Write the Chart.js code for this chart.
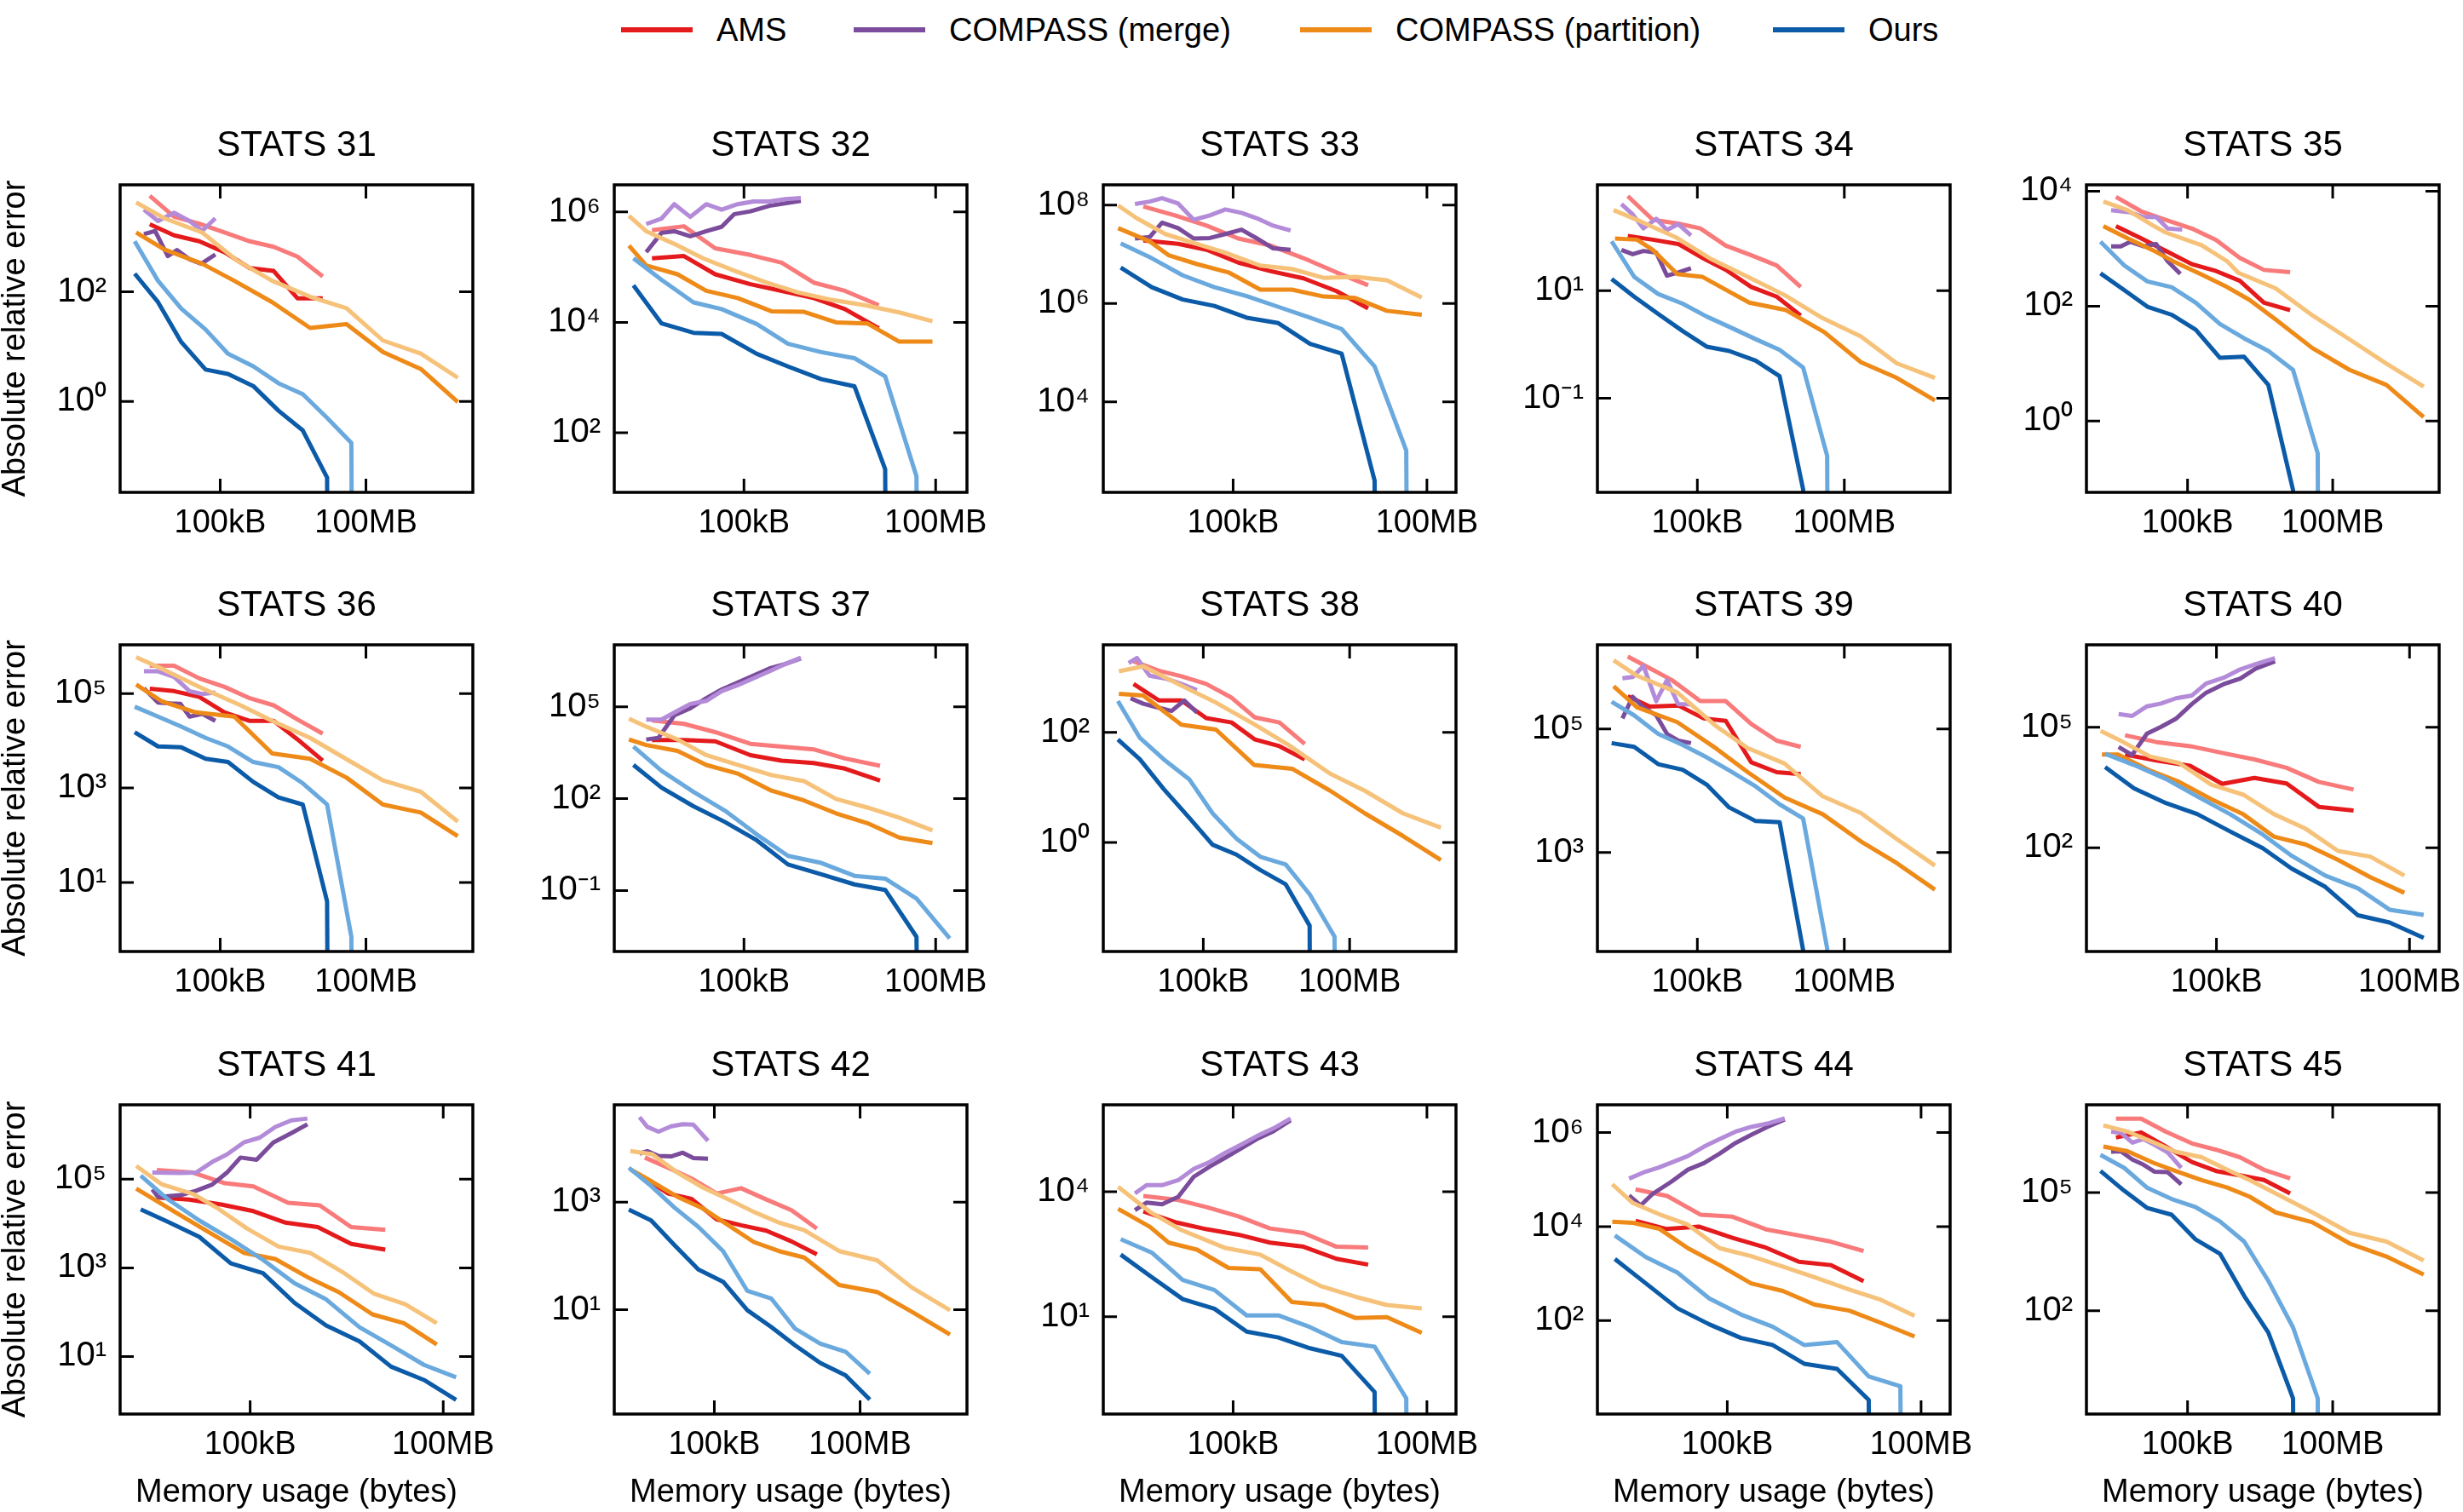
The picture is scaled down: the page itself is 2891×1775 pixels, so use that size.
<!DOCTYPE html>
<html>
<head>
<meta charset="utf-8">
<script src="https://cdn.jsdelivr.net/npm/chart.js@4.4.1/dist/chart.umd.min.js"></script>
<style>
html, body { margin: 0; padding: 0; background: #fff; }
#page { position: relative; width: 2891px; height: 1775px; overflow: hidden; font-family: "Liberation Sans", Arial, sans-serif; }
#page canvas { position: absolute; }
.leg { position: absolute; top: 13px; height: 44px; line-height: 44px; font-size: 38px; color: #000; white-space: nowrap; }
.leg i { position: absolute; left: 0; top: 19px; width: 84px; height: 6px; }
</style>
</head>
<body>
<div id="page"></div>
<script>
const FONT = '"Liberation Sans", Arial, sans-serif';

// all values are log10: [log10(bytes), log10(absolute relative error)]
// Z = log10(0): the error hit zero, matplotlib drops the line off the bottom
const Z = -Infinity;
const FLOOR = 1e-100;

const panelIds = [31, 32, 33, 34, 35, 36, 37, 38, 39, 40, 41, 42, 43, 44, 45];
const xLimExp = [[2.94, 10.2], [2.97, 8.49], [2.99, 8.45], [2.96, 10.16], [2.91, 10.2],
                 [2.94, 10.2], [2.97, 8.49], [2.95, 10.18], [2.96, 10.16], [2.98, 8.46],
                 [2.98, 8.46], [2.94, 10.2], [2.99, 8.45], [2.99, 8.45], [2.91, 10.2]];
const yLimExp = [[-1.66, 3.95], [0.92, 6.49], [2.16, 8.41], [-2.75, 2.97], [-1.24, 4.11],
                 [-0.46, 6.03], [-2.99, 7.02], [-1.98, 3.59], [1.40, 6.36], [-0.58, 7.05],
                 [-0.30, 6.68], [-0.94, 4.81], [-1.34, 6.09], [0.01, 6.59], [-0.62, 7.23]];
const yTickExp = [[0, 2], [2, 4, 6], [4, 6, 8], [-1, 1], [0, 2, 4],
                  [1, 3, 5], [-1, 2, 5], [0, 2], [3, 5], [2, 5],
                  [1, 3, 5], [1, 3], [1, 4], [2, 4, 6], [2, 5]];
const xTickValues = [1e5, 1e8];
const xTickLabels = ['100kB', '100MB'];
const legendLabels = ['AMS', 'COMPASS (merge)', 'COMPASS (partition)', 'Ours'];

const s31 = {
  ams:   [[3.55,3.23],[4.05,3.03],[4.57,2.92],[5.09,2.72],[5.61,2.43],[6.10,2.38],[6.59,1.88],[7.11,1.88]],
  amsL:  [[3.55,3.75],[4.05,3.37],[4.57,3.24],[5.09,3.08],[5.61,2.92],[6.10,2.82],[6.59,2.64],[7.11,2.28]],
  merge: [[3.43,3.05],[3.66,3.11],[3.92,2.65],[4.11,2.76],[4.37,2.59],[4.61,2.51],[4.90,2.68]],
  mergeL:[[3.43,3.50],[3.72,3.29],[4.05,3.44],[4.37,3.29],[4.63,3.11],[4.90,3.34]],
  part:  [[3.27,3.08],[3.85,2.77],[4.63,2.51],[5.29,2.20],[6.07,1.81],[6.85,1.34],[7.60,1.41],[8.35,0.90],[9.13,0.59],[9.89,-0.01]],
  partL: [[3.27,3.63],[3.85,3.34],[4.63,3.08],[5.36,2.56],[6.07,2.20],[6.85,1.91],[7.60,1.70],[8.35,1.11],[9.13,0.87],[9.89,0.43]],
  ours:  [[3.24,2.33],[3.72,1.81],[4.20,1.08],[4.70,0.58],[5.16,0.50],[5.68,0.28],[6.20,-0.17],[6.70,-0.53],[7.20,-1.39],[7.70,Z]],
  oursL: [[3.24,2.92],[3.72,2.20],[4.20,1.69],[4.70,1.31],[5.16,0.87],[5.68,0.64],[6.20,0.33],[6.70,0.13],[7.20,-0.30],[7.70,-0.76],[8.20,Z]]
};
const s32 = {
  ams:   [[3.56,5.16],[4.06,5.20],[4.55,4.87],[5.10,4.69],[5.59,4.57],[6.09,4.44],[6.58,4.24],[7.11,3.89]],
  amsL:  [[3.56,5.67],[4.06,5.74],[4.55,5.34],[5.10,5.22],[5.59,5.08],[6.09,4.72],[6.58,4.57],[7.11,4.31]],
  merge: [[3.47,5.27],[3.71,5.62],[3.91,5.65],[4.16,5.56],[4.41,5.65],[4.65,5.73],[4.85,5.96],[5.10,6.01],[5.40,6.11],[5.89,6.20]],
  mergeL:[[3.47,5.78],[3.71,5.88],[3.91,6.14],[4.16,5.91],[4.41,6.14],[4.65,6.04],[4.90,6.14],[5.15,6.19],[5.40,6.19],[5.65,6.23],[5.89,6.25]],
  part:  [[3.20,5.39],[3.47,5.03],[3.96,4.87],[4.41,4.57],[4.90,4.44],[5.43,4.20],[5.94,4.19],[6.44,4.00],[6.93,3.98],[7.43,3.65],[7.95,3.65]],
  partL: [[3.20,5.93],[3.47,5.65],[3.91,5.42],[4.36,5.16],[4.86,4.93],[5.35,4.72],[5.85,4.54],[6.35,4.41],[6.89,4.31],[7.43,4.18],[7.95,4.02]],
  ours:  [[3.27,4.67],[3.71,3.98],[4.21,3.81],[4.65,3.79],[5.20,3.43],[5.69,3.20],[6.21,2.97],[6.73,2.84],[7.21,1.34],[7.70,Z]],
  oursL: [[3.27,5.16],[3.71,4.77],[4.21,4.36],[4.65,4.24],[5.20,3.97],[5.69,3.61],[6.21,3.46],[6.73,3.35],[7.21,3.02],[7.70,1.21],[8.20,Z]]
};
const s33 = {
  ams:   [[3.61,7.28],[4.15,7.21],[4.59,7.09],[5.08,6.83],[5.57,6.66],[6.09,6.51],[6.60,6.25],[7.09,5.90]],
  amsL:  [[3.61,7.97],[4.10,7.79],[4.59,7.58],[5.08,7.32],[5.57,7.18],[6.09,6.92],[6.60,6.63],[7.09,6.37]],
  merge: [[3.48,7.32],[3.71,7.35],[3.90,7.64],[4.15,7.53],[4.39,7.32],[4.64,7.33],[4.88,7.41],[5.13,7.50],[5.37,7.32],[5.62,7.12],[5.89,7.09]],
  mergeL:[[3.48,8.02],[3.71,8.07],[3.90,8.14],[4.15,8.03],[4.39,7.70],[4.64,7.79],[4.88,7.91],[5.13,7.84],[5.37,7.73],[5.62,7.58],[5.89,7.48]],
  part:  [[3.22,7.53],[3.71,7.26],[4.00,6.98],[4.44,6.80],[4.93,6.63],[5.42,6.28],[5.91,6.28],[6.40,6.14],[6.89,6.11],[7.38,5.85],[7.92,5.77]],
  partL: [[3.22,7.99],[3.51,7.73],[3.95,7.41],[4.44,7.21],[4.88,7.03],[5.42,6.77],[5.91,6.70],[6.40,6.52],[6.89,6.54],[7.38,6.47],[7.92,6.12]],
  ours:  [[3.26,6.73],[3.74,6.33],[4.22,6.08],[4.71,5.95],[5.21,5.71],[5.70,5.60],[6.19,5.18],[6.68,4.98],[7.19,2.40],[7.68,Z]],
  oursL: [[3.26,7.22],[3.74,6.92],[4.22,6.57],[4.71,6.33],[5.21,6.15],[5.70,5.93],[6.19,5.71],[6.68,5.48],[7.19,4.72],[7.68,3.01],[8.18,Z]]
};
const s34 = {
  ams:   [[3.58,2.02],[4.09,1.95],[4.61,1.87],[5.13,1.60],[5.58,1.39],[6.10,1.07],[6.62,0.89],[7.11,0.54]],
  amsL:  [[3.58,2.76],[4.09,2.32],[4.61,2.25],[5.06,2.16],[5.58,1.84],[6.10,1.66],[6.62,1.47],[7.11,1.07]],
  merge: [[3.45,1.76],[3.68,1.68],[3.90,1.74],[4.16,1.71],[4.38,1.28],[4.61,1.34],[4.87,1.42]],
  mergeL:[[3.45,2.61],[3.68,2.42],[3.90,2.16],[4.16,2.34],[4.38,2.13],[4.61,2.24],[4.87,2.03]],
  part:  [[3.32,1.97],[3.77,1.95],[4.09,1.76],[4.59,1.31],[5.10,1.26],[5.58,1.02],[6.06,0.78],[6.81,0.64],[7.59,0.23],[8.34,-0.33],[9.07,-0.62],[9.85,-1.04]],
  partL: [[3.29,2.50],[3.84,2.29],[4.55,2.00],[5.26,1.60],[6.03,1.26],[6.78,0.92],[7.56,0.49],[8.34,0.15],[9.07,-0.35],[9.85,-0.62]],
  ours:  [[3.25,1.22],[3.71,0.89],[4.20,0.57],[4.70,0.25],[5.19,-0.04],[5.65,-0.12],[6.19,-0.30],[6.68,-0.59],[7.16,-2.70],[7.66,Z]],
  oursL: [[3.25,1.92],[3.71,1.26],[4.20,0.94],[4.70,0.76],[5.19,0.52],[5.65,0.33],[6.19,0.10],[6.68,-0.10],[7.16,-0.43],[7.65,-2.07],[8.15,Z]]
};
const s35 = {
  ams:   [[3.52,3.39],[4.04,3.18],[4.55,2.96],[5.09,2.73],[5.59,2.61],[6.08,2.44],[6.58,2.06],[7.12,1.93]],
  amsL:  [[3.52,3.90],[4.04,3.65],[4.55,3.50],[5.09,3.35],[5.59,3.15],[6.08,2.84],[6.58,2.63],[7.12,2.59]],
  merge: [[3.42,3.04],[3.62,3.04],[3.82,3.12],[4.09,3.04],[4.35,3.08],[4.59,2.78],[4.85,2.56]],
  mergeL:[[3.42,3.67],[3.82,3.63],[4.09,3.55],[4.35,3.55],[4.59,3.35],[4.89,3.33]],
  part:  [[3.26,3.39],[3.76,3.18],[4.29,2.97],[4.75,2.76],[5.29,2.55],[5.82,2.33],[6.28,2.11],[6.82,1.77],[7.58,1.27],[8.35,0.89],[9.11,0.63],[9.88,0.07]],
  partL: [[3.26,3.82],[3.76,3.67],[4.29,3.40],[4.55,3.28],[5.29,3.06],[5.82,2.78],[6.05,2.58],[6.82,2.31],[7.58,1.84],[8.35,1.42],[9.11,1.00],[9.88,0.60]],
  ours:  [[3.20,2.57],[3.69,2.28],[4.17,1.99],[4.67,1.85],[5.17,1.59],[5.67,1.10],[6.17,1.12],[6.67,0.63],[7.18,-1.20],[7.68,Z]],
  oursL: [[3.20,3.12],[3.69,2.71],[4.17,2.43],[4.67,2.33],[5.17,2.06],[5.67,1.69],[6.17,1.44],[6.67,1.22],[7.18,0.89],[7.69,-0.56],[8.19,Z]]
};
const s36 = {
  ams:   [[3.55,5.10],[4.05,5.05],[4.57,4.93],[5.09,4.60],[5.61,4.42],[6.10,4.42],[6.59,4.03],[7.11,3.58]],
  amsL:  [[3.55,5.59],[4.05,5.59],[4.57,5.32],[5.09,5.14],[5.61,4.90],[6.10,4.75],[6.59,4.45],[7.11,4.15]],
  merge: [[3.43,5.11],[3.72,4.81],[3.98,4.79],[4.18,4.78],[4.37,4.51],[4.63,4.57],[4.90,4.42]],
  mergeL:[[3.43,5.47],[3.72,5.47],[4.05,5.35],[4.37,5.05],[4.63,4.99],[4.90,5.02]],
  part:  [[3.27,5.19],[3.79,4.84],[4.50,4.60],[5.29,4.51],[6.07,3.73],[6.85,3.62],[7.60,3.22],[8.35,2.65],[9.13,2.48],[9.89,1.98]],
  partL: [[3.27,5.77],[3.85,5.50],[4.63,5.11],[5.42,4.75],[6.07,4.42],[6.85,4.06],[7.60,3.61],[8.35,3.16],[9.13,2.92],[9.89,2.29]],
  ours:  [[3.24,4.18],[3.72,3.88],[4.20,3.86],[4.70,3.62],[5.16,3.55],[5.68,3.13],[6.20,2.80],[6.70,2.65],[7.20,0.60],[7.70,Z]],
  oursL: [[3.24,4.72],[3.72,4.51],[4.20,4.30],[4.70,4.06],[5.16,3.88],[5.68,3.55],[6.20,3.44],[6.70,3.10],[7.20,2.65],[7.70,-0.15],[8.20,Z]]
};
const s37 = {
  ams:   [[3.56,3.91],[4.06,3.91],[4.55,3.87],[5.10,3.42],[5.59,3.24],[6.09,3.16],[6.58,2.98],[7.13,2.59]],
  amsL:  [[3.56,4.55],[4.06,4.44],[4.55,4.17],[5.10,3.79],[5.59,3.70],[6.09,3.61],[6.58,3.31],[7.13,3.07]],
  merge: [[3.47,3.93],[3.66,3.98],[3.91,4.72],[4.16,4.95],[4.41,5.28],[4.65,5.56],[4.90,5.79],[5.15,6.02],[5.40,6.25],[5.64,6.39],[5.89,6.58]],
  mergeL:[[3.47,4.58],[3.71,4.58],[3.91,4.81],[4.16,5.09],[4.41,5.19],[4.65,5.51],[4.90,5.70],[5.15,5.93],[5.40,6.16],[5.64,6.39],[5.89,6.60]],
  part:  [[3.20,3.93],[3.47,3.75],[3.96,3.56],[4.41,3.10],[4.90,2.82],[5.43,2.26],[5.94,1.94],[6.44,1.52],[6.93,1.20],[7.43,0.73],[7.95,0.55]],
  partL: [[3.20,4.61],[3.47,4.35],[3.96,3.93],[4.41,3.42],[4.90,3.10],[5.43,2.77],[5.94,2.57],[6.44,1.99],[6.93,1.71],[7.43,1.38],[7.95,0.96]],
  ours:  [[3.27,3.10],[3.71,2.36],[4.21,1.75],[4.70,1.24],[5.20,0.64],[5.69,-0.15],[6.21,-0.47],[6.73,-0.80],[7.21,-0.98],[7.70,-2.51],[8.20,Z]],
  oursL: [[3.27,3.70],[3.71,2.91],[4.21,2.22],[4.70,1.61],[5.20,0.83],[5.69,0.13],[6.21,-0.10],[6.73,-0.52],[7.21,-0.61],[7.70,-1.26],[8.22,-2.56]]
};
const s38 = {
  ams:   [[3.57,2.88],[4.09,2.58],[4.55,2.58],[5.06,2.26],[5.58,2.18],[6.06,1.87],[6.56,1.75],[7.08,1.51]],
  amsL:  [[3.57,3.29],[4.09,3.12],[4.55,3.02],[5.06,2.88],[5.58,2.63],[6.06,2.27],[6.56,2.18],[7.08,1.79]],
  merge: [[3.51,2.62],[3.77,2.52],[4.03,2.46],[4.35,2.39],[4.61,2.58],[4.87,2.36]],
  mergeL:[[3.47,3.26],[3.64,3.35],[3.90,3.03],[4.22,2.98],[4.55,2.88],[4.87,2.77]],
  part:  [[3.27,2.70],[3.77,2.67],[4.55,2.14],[5.26,2.05],[6.04,1.41],[6.82,1.34],[7.60,0.94],[8.31,0.53],[9.09,0.12],[9.87,-0.32]],
  partL: [[3.27,3.11],[3.77,3.20],[4.48,2.88],[5.26,2.54],[6.04,2.15],[6.75,1.77],[7.60,1.25],[8.31,0.94],[9.09,0.53],[9.87,0.27]],
  ours:  [[3.25,1.87],[3.70,1.51],[4.19,0.97],[4.71,0.45],[5.19,-0.04],[5.68,-0.22],[6.17,-0.50],[6.69,-0.76],[7.18,-1.51],[7.68,Z]],
  oursL: [[3.25,2.57],[3.70,1.90],[4.19,1.51],[4.71,1.15],[5.19,0.53],[5.68,0.07],[6.17,-0.26],[6.69,-0.40],[7.18,-0.94],[7.69,-1.71],[8.19,Z]]
};
const s39 = {
  ams:   [[3.58,5.53],[4.03,5.36],[4.61,5.38],[5.13,5.17],[5.58,5.13],[6.10,4.46],[6.62,4.30],[7.11,4.27]],
  amsL:  [[3.58,6.17],[4.03,5.98],[4.48,5.79],[5.06,5.45],[5.58,5.45],[6.10,5.08],[6.62,4.81],[7.11,4.71]],
  merge: [[3.47,5.17],[3.68,5.52],[3.90,5.35],[4.16,5.22],[4.38,4.92],[4.61,4.81],[4.87,4.77]],
  mergeL:[[3.47,5.82],[3.68,5.84],[3.90,6.02],[4.16,5.45],[4.38,5.79],[4.61,5.40],[4.87,5.40]],
  part:  [[3.29,5.69],[3.77,5.35],[4.59,5.11],[5.39,4.68],[6.03,4.30],[6.78,3.89],[7.56,3.62],[8.34,3.18],[9.07,2.83],[9.85,2.40]],
  partL: [[3.29,6.11],[3.77,5.86],[4.59,5.59],[5.39,5.04],[6.03,4.69],[6.78,4.44],[7.56,3.91],[8.34,3.64],[9.07,3.22],[9.85,2.79]],
  ours:  [[3.25,4.77],[3.71,4.71],[4.20,4.43],[4.70,4.34],[5.19,4.10],[5.65,3.73],[6.19,3.51],[6.68,3.49],[7.16,1.42],[7.66,Z]],
  oursL: [[3.25,5.44],[3.71,5.22],[4.20,4.92],[4.70,4.74],[5.19,4.54],[5.65,4.33],[6.19,4.07],[6.68,3.78],[7.16,3.55],[7.65,1.45],[8.15,Z]]
};
const s40 = {
  ams:   [[3.58,4.32],[4.07,4.17],[4.59,4.04],[5.09,3.59],[5.59,3.74],[6.09,3.60],[6.59,3.02],[7.13,2.93]],
  amsL:  [[3.58,4.80],[4.07,4.63],[4.59,4.53],[5.09,4.36],[5.59,4.20],[6.09,3.99],[6.59,3.64],[7.13,3.45]],
  merge: [[3.48,4.51],[3.69,4.31],[3.92,4.84],[4.14,5.01],[4.37,5.21],[4.62,5.58],[4.84,5.86],[5.11,6.07],[5.37,6.21],[5.61,6.46],[5.91,6.64]],
  mergeL:[[3.48,5.33],[3.69,5.28],[3.92,5.52],[4.14,5.59],[4.37,5.72],[4.62,5.79],[4.84,6.09],[5.11,6.23],[5.37,6.44],[5.61,6.57],[5.91,6.72]],
  part:  [[3.22,4.32],[3.47,4.32],[3.97,3.92],[4.42,3.64],[4.92,3.21],[5.42,2.83],[5.89,2.28],[6.39,2.08],[6.89,1.70],[7.39,1.27],[7.92,0.88]],
  partL: [[3.20,4.91],[3.47,4.70],[3.97,4.27],[4.42,4.11],[4.92,3.57],[5.42,3.32],[5.89,2.84],[6.39,2.47],[6.89,1.92],[7.39,1.78],[7.92,1.31]],
  ours:  [[3.27,4.01],[3.72,3.48],[4.22,3.11],[4.70,2.84],[5.22,2.40],[5.72,1.99],[6.17,1.48],[6.69,1.03],[7.20,0.32],[7.69,0.14],[8.22,-0.24]],
  oursL: [[3.27,4.34],[3.72,4.06],[4.22,3.71],[4.70,3.28],[5.22,2.83],[5.72,2.33],[6.17,1.80],[6.69,1.31],[7.20,0.99],[7.69,0.46],[8.22,0.33]]
};
const s41 = {
  ams:   [[3.55,4.59],[4.05,4.54],[4.55,4.43],[5.05,4.28],[5.55,4.02],[6.05,3.92],[6.57,3.54],[7.10,3.41]],
  amsL:  [[3.55,5.21],[4.11,5.15],[4.61,4.91],[5.05,4.84],[5.59,4.47],[6.08,4.41],[6.57,3.92],[7.10,3.86]],
  merge: [[3.48,4.77],[3.57,4.60],[3.92,4.64],[4.16,4.74],[4.41,4.88],[4.64,5.15],[4.85,5.49],[5.10,5.44],[5.36,5.83],[5.64,6.04],[5.89,6.24]],
  mergeL:[[3.48,5.15],[3.92,5.14],[4.16,5.15],[4.41,5.39],[4.64,5.56],[4.90,5.83],[5.15,5.94],[5.39,6.18],[5.64,6.33],[5.89,6.37]],
  part:  [[3.23,4.79],[3.90,4.20],[4.40,3.77],[4.90,3.34],[5.39,3.20],[5.93,2.76],[6.38,2.45],[6.90,1.95],[7.39,1.75],[7.90,1.27]],
  partL: [[3.23,5.30],[3.62,4.89],[4.11,4.67],[4.51,4.33],[4.95,3.89],[5.44,3.48],[5.93,3.34],[6.43,2.91],[6.92,2.42],[7.41,2.18],[7.90,1.75]],
  ours:  [[3.30,4.32],[3.72,4.04],[4.21,3.70],[4.70,3.10],[5.20,2.88],[5.69,2.21],[6.18,1.70],[6.70,1.34],[7.19,0.77],[7.70,0.47],[8.20,0.02]],
  oursL: [[3.30,5.08],[3.72,4.55],[4.21,4.07],[4.70,3.65],[5.20,3.18],[5.69,2.65],[6.18,2.29],[6.70,1.66],[7.19,1.25],[7.70,0.81],[8.20,0.53]]
};
const s42 = {
  ams:   [[3.57,3.44],[4.05,3.16],[4.53,3.06],[5.05,2.68],[5.55,2.57],[6.07,2.47],[6.59,2.27],[7.11,2.03]],
  amsL:  [[3.57,3.83],[4.05,3.64],[4.53,3.44],[5.05,3.16],[5.55,3.26],[6.07,3.05],[6.59,2.85],[7.11,2.51]],
  merge: [[3.46,3.90],[3.62,3.95],[3.85,3.86],[4.11,3.85],[4.35,3.92],[4.57,3.82],[4.87,3.81]],
  mergeL:[[3.46,4.58],[3.62,4.40],[3.85,4.31],[4.11,4.41],[4.35,4.45],[4.57,4.44],[4.87,4.14]],
  part:  [[3.27,3.61],[3.72,3.38],[4.24,3.10],[4.77,2.88],[5.29,2.57],[5.81,2.26],[6.33,2.09],[6.85,1.97],[7.57,1.46],[8.35,1.33],[9.07,0.96],[9.85,0.54]],
  partL: [[3.27,3.95],[3.72,3.89],[4.24,3.55],[4.77,3.27],[5.29,3.05],[5.81,2.82],[6.33,2.62],[6.85,2.48],[7.57,2.09],[8.35,1.92],[9.07,1.41],[9.85,0.99]],
  ours:  [[3.24,2.86],[3.70,2.66],[4.18,2.20],[4.67,1.75],[5.18,1.52],[5.68,0.99],[6.17,0.68],[6.66,0.34],[7.18,0.01],[7.70,-0.22],[8.20,-0.67]],
  oursL: [[3.24,3.64],[3.70,3.30],[4.18,2.90],[4.67,2.54],[5.18,2.09],[5.68,1.35],[6.17,1.21],[6.66,0.65],[7.18,0.37],[7.70,0.22],[8.20,-0.19]]
};
const s43 = {
  ams:   [[3.61,3.53],[4.13,3.26],[4.59,3.10],[5.08,2.97],[5.57,2.78],[6.09,2.68],[6.60,2.39],[7.09,2.25]],
  amsL:  [[3.61,3.90],[4.13,3.81],[4.59,3.63],[5.08,3.41],[5.57,3.12],[6.09,3.01],[6.60,2.68],[7.09,2.66]],
  merge: [[3.48,3.56],[3.66,3.74],[3.90,3.70],[4.15,3.88],[4.39,4.36],[4.64,4.61],[4.88,4.82],[5.13,5.05],[5.37,5.27],[5.62,5.45],[5.89,5.72]],
  mergeL:[[3.48,3.96],[3.66,4.16],[3.90,4.16],[4.15,4.28],[4.39,4.55],[4.64,4.72],[4.88,4.94],[5.13,5.14],[5.37,5.34],[5.62,5.52],[5.89,5.76]],
  part:  [[3.22,3.59],[3.71,3.16],[4.00,2.78],[4.44,2.61],[4.93,2.17],[5.42,2.14],[5.91,1.35],[6.40,1.28],[6.89,0.97],[7.38,0.99],[7.92,0.61]],
  partL: [[3.22,4.12],[3.71,3.52],[4.20,3.08],[4.88,2.65],[5.42,2.49],[5.89,2.10],[6.35,1.74],[6.89,1.48],[7.38,1.28],[7.92,1.20]],
  ours:  [[3.26,2.49],[3.74,1.95],[4.22,1.42],[4.71,1.19],[5.21,0.64],[5.70,0.50],[6.19,0.24],[6.68,0.06],[7.19,-0.81],[7.69,Z]],
  oursL: [[3.26,2.86],[3.74,2.54],[4.22,1.88],[4.71,1.64],[5.21,1.03],[5.70,1.03],[6.19,0.75],[6.68,0.39],[7.19,0.28],[7.68,-0.96],[8.18,Z]]
};
const s44 = {
  ams:   [[3.58,4.12],[4.05,3.95],[4.56,4.00],[5.08,3.76],[5.60,3.55],[6.11,3.25],[6.60,3.18],[7.11,2.84]],
  amsL:  [[3.58,4.79],[4.07,4.65],[4.59,4.25],[5.08,4.21],[5.60,3.94],[6.11,3.81],[6.60,3.68],[7.11,3.48]],
  merge: [[3.48,4.66],[3.66,4.45],[3.85,4.70],[4.13,4.95],[4.39,5.21],[4.64,5.35],[4.88,5.55],[5.13,5.78],[5.37,5.95],[5.62,6.12],[5.89,6.28]],
  mergeL:[[3.48,5.02],[3.70,5.15],[3.93,5.25],[4.15,5.37],[4.39,5.50],[4.64,5.70],[4.88,5.86],[5.13,6.02],[5.37,6.12],[5.62,6.19],[5.89,6.30]],
  part:  [[3.22,4.10],[3.54,4.08],[3.95,3.95],[4.39,3.54],[4.88,3.18],[5.37,2.79],[5.86,2.63],[6.35,2.34],[6.89,2.21],[7.38,1.95],[7.90,1.66]],
  partL: [[3.22,4.90],[3.54,4.50],[3.95,4.26],[4.39,4.04],[4.88,3.54],[5.37,3.37],[5.86,3.15],[6.35,2.92],[6.89,2.66],[7.38,2.44],[7.90,2.10]],
  ours:  [[3.26,3.31],[3.74,2.79],[4.23,2.26],[4.72,1.92],[5.21,1.63],[5.70,1.48],[6.19,1.08],[6.70,0.97],[7.19,0.31],[7.69,Z]],
  oursL: [[3.26,3.81],[3.74,3.35],[4.23,3.02],[4.72,2.47],[5.21,2.13],[5.70,1.87],[6.19,1.48],[6.70,1.54],[7.19,0.81],[7.68,0.60],[8.18,Z]]
};
const s45 = {
  ams:   [[3.52,6.40],[4.04,6.53],[4.55,6.17],[5.09,5.78],[5.59,5.55],[6.08,5.44],[6.58,5.32],[7.12,4.98]],
  amsL:  [[3.52,6.88],[4.04,6.88],[4.55,6.55],[5.09,6.25],[5.59,6.09],[6.08,5.90],[6.58,5.58],[7.12,5.36]],
  merge: [[3.42,6.04],[3.62,6.05],[3.86,5.84],[4.09,5.71],[4.32,5.53],[4.59,5.52],[4.87,5.21]],
  mergeL:[[3.42,6.55],[3.62,6.52],[3.86,6.27],[4.09,6.36],[4.32,6.21],[4.59,6.02],[4.87,5.63]],
  part:  [[3.26,6.17],[3.76,6.05],[4.29,5.76],[4.75,5.55],[5.29,5.32],[5.82,5.13],[6.28,4.90],[6.82,4.50],[7.58,4.25],[8.35,3.71],[9.11,3.38],[9.88,2.92]],
  partL: [[3.26,6.71],[3.76,6.55],[4.29,6.28],[4.75,6.04],[5.29,5.90],[5.82,5.58],[6.28,5.32],[6.82,4.98],[7.58,4.50],[8.35,3.98],[9.11,3.76],[9.88,3.28]],
  ours:  [[3.20,5.55],[3.69,5.05],[4.17,4.61],[4.67,4.44],[5.17,3.81],[5.67,3.45],[6.17,2.38],[6.67,1.45],[7.18,-0.22],[7.68,Z]],
  oursL: [[3.20,5.96],[3.69,5.63],[4.17,5.12],[4.67,4.84],[5.17,4.63],[5.67,4.27],[6.17,3.76],[6.67,2.76],[7.18,1.58],[7.69,-0.22],[8.19,Z]]
};
const panelData = [s31, s32, s33, s34, s35, s36, s37, s38, s39, s40, s41, s42, s43, s44, s45];

// plotting order, first = bottom (matplotlib order)
const seriesKeys   = ['ams', 'amsL', 'merge', 'mergeL', 'part', 'partL', 'ours', 'oursL'];
const seriesColors = ['#e41a1c', '#f87a7a', '#7a4c9b', '#b38bd9', '#ee8a18', '#f6c27a', '#0b5ba8', '#6aa9de'];
const legendColors = ['#e41a1c', '#7a4c9b', '#ee8a18', '#0b5ba8'];

// layout (px)
const colLeft = [141, 721, 1295, 1875, 2449];
const rowTop = [217, 757, 1297];
const rowH = [361, 360, 363];
const PANEL_W = 414;
const TITLE_H = 74;
const RIGHT_PAD = 70;
const legendX = [729, 1002, 1526, 2081];

const page = document.getElementById('page');

legendLabels.forEach((lab, i) => {
  const d = document.createElement('div');
  d.className = 'leg';
  d.style.left = legendX[i] + 'px';
  d.style.paddingLeft = '112px';
  d.innerHTML = '<i style="background:' + legendColors[i] + '"></i>' + lab;
  page.appendChild(d);
});

const SUP = {'0': '⁰', '1': '¹', '2': '²', '3': '³', '4': '⁴', '5': '⁵', '6': '⁶', '7': '⁷', '8': '⁸', '9': '⁹', '-': '⁻'};
function powLabel(v) {
  const e = String(Math.round(Math.log10(v)));
  return '10' + e.split('').map(c => SUP[c]).join('');
}

// frame + inward ticks on all four sides, like the matplotlib axes
const framePlugin = {
  id: 'frame',
  afterDatasetsDraw(chart) {
    const {ctx, chartArea: a, scales: {x, y}} = chart;
    ctx.save();
    ctx.strokeStyle = '#000';
    ctx.lineWidth = 3;
    ctx.beginPath();
    x.ticks.forEach(t => {
      const p = x.getPixelForValue(t.value);
      ctx.moveTo(p, a.bottom); ctx.lineTo(p, a.bottom - 16);
      ctx.moveTo(p, a.top); ctx.lineTo(p, a.top + 16);
    });
    y.ticks.forEach(t => {
      const p = y.getPixelForValue(t.value);
      ctx.moveTo(a.left, p); ctx.lineTo(a.left + 16, p);
      ctx.moveTo(a.right, p); ctx.lineTo(a.right - 16, p);
    });
    ctx.stroke();
    ctx.lineWidth = 3.5;
    ctx.strokeRect(a.left, a.top, a.right - a.left, a.bottom - a.top);
    ctx.restore();
  }
};

panelIds.forEach((id, i) => {
  const col = i % 5, row = Math.floor(i / 5);
  const yw = col === 0 ? colLeft[0] : 130;
  const xh = row === 2 ? 112 : 60;
  const W = yw + PANEL_W + RIGHT_PAD;
  const H = TITLE_H + rowH[row] + xh;

  const cv = document.createElement('canvas');
  cv.width = W; cv.height = H;
  cv.style.left = (colLeft[col] - yw) + 'px';
  cv.style.top = (rowTop[row] - TITLE_H) + 'px';
  page.appendChild(cv);

  const pd = panelData[i];
  const datasets = seriesKeys.map((k, j) => ({
    label: k,
    data: pd[k].map(([lx, ly]) => {
      const v = Math.pow(10, ly);
      return {x: Math.pow(10, lx), y: v > 0 ? v : FLOOR};
    }),
    borderColor: seriesColors[j],
    borderWidth: 5,
    pointRadius: 0,
    tension: 0,
    fill: false,
    borderJoinStyle: 'round',
    borderCapStyle: 'butt'
  })).reverse(); // chart.js paints dataset 0 on top

  new Chart(cv, {
    type: 'line',
    data: {datasets},
    plugins: [framePlugin],
    options: {
      responsive: false,
      animation: false,
      devicePixelRatio: 1,
      layout: {padding: {left: 0, right: RIGHT_PAD, top: 0, bottom: 0}},
      plugins: {
        legend: {display: false},
        tooltip: {enabled: false},
        title: {
          display: true, text: 'STATS ' + id, fullSize: false, color: '#000',
          font: {family: FONT, size: 42, weight: 'normal', lineHeight: 1.2},
          padding: {top: 3, bottom: 20.6}
        }
      },
      scales: {
        x: {
          type: 'logarithmic', bounds: 'data',
          min: Math.pow(10, xLimExp[i][0]), max: Math.pow(10, xLimExp[i][1]),
          grid: {display: false, drawTicks: false},
          border: {display: false},
          afterBuildTicks: s => { s.ticks = xTickValues.map(v => ({value: v})); },
          afterFit: s => { s.height = xh; },
          ticks: {
            autoSkip: false, maxRotation: 0, minRotation: 0, padding: 14, color: '#000',
            font: {family: FONT, size: 38},
            callback: v => xTickLabels[xTickValues.indexOf(v)]
          },
          title: {
            display: row === 2, text: 'Memory usage (bytes)', color: '#000',
            font: {family: FONT, size: 38, lineHeight: 1}, padding: 0
          }
        },
        y: {
          type: 'logarithmic', bounds: 'data',
          min: Math.pow(10, yLimExp[i][0]), max: Math.pow(10, yLimExp[i][1]),
          grid: {display: false, drawTicks: false},
          border: {display: false},
          afterBuildTicks: s => { s.ticks = yTickExp[i].map(e => ({value: Math.pow(10, e)})); },
          afterFit: s => { s.width = yw; },
          ticks: {
            autoSkip: false, padding: 16, color: '#000',
            font: {family: FONT, size: 40},
            callback: v => powLabel(v)
          },
          title: {
            display: col === 0, text: 'Absolute relative error', color: '#000',
            font: {family: FONT, size: 38, lineHeight: 1}, padding: 0
          }
        }
      }
    }
  });
});
</script>
</body>
</html>
